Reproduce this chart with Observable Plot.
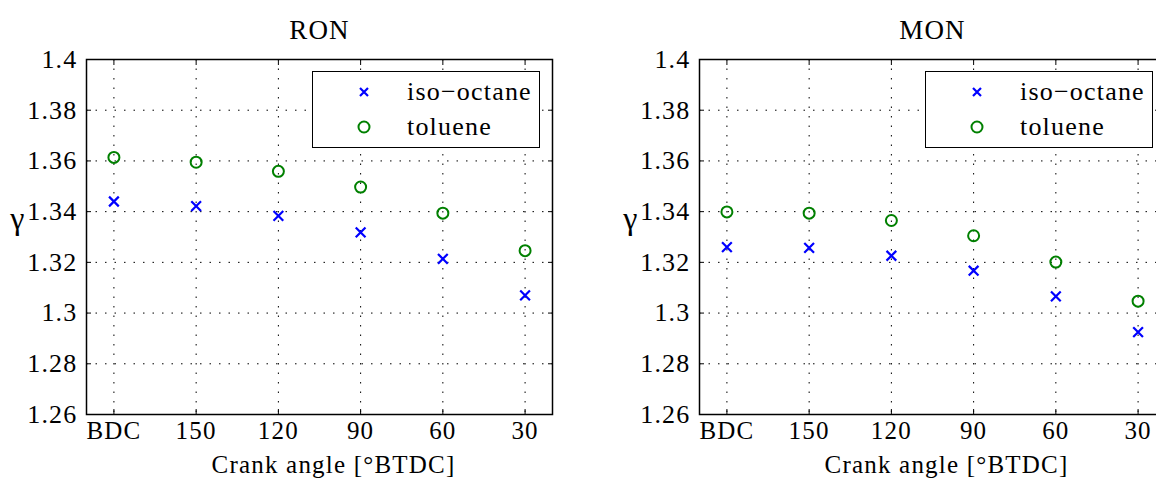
<!DOCTYPE html>
<html>
<head>
<meta charset="utf-8">
<script src="https://cdn.jsdelivr.net/npm/d3@7"></script>
<script src="https://cdn.jsdelivr.net/npm/@observablehq/plot@0.6"></script>
<style>
  html, body { margin: 0; padding: 0; background: #fff; overflow: hidden; }
  #wrap { position: relative; width: 1156px; height: 484px; overflow: hidden; background: #fff; }
  .panel { position: absolute; top: 0; }
  .panel text { letter-spacing: 1.2px; }
  .panel text.xlabel { letter-spacing: 1.5px; }
  .legend { position: absolute; background: #fff; border: 1.5px solid #000; box-sizing: border-box; color: #000; }
  .legend .row { position: absolute; left: 0; height: 32px; width: 100%; }
  .legend svg { position: absolute; left: 40px; top: 5px; }
  .legend span { position: absolute; left: 94px; top: 0; line-height: 32px; white-space: nowrap; letter-spacing: 1.2px;
                 font-family: 'Liberation Serif', 'Times New Roman', serif; font-size: 26px; }
</style>
</head>
<body>
<div id="wrap"></div>
<script>
// ---- data ----
const angles = [180, 150, 120, 90, 60, 30];
const angleLabels = ["BDC", "150", "120", "90", "60", "30"];
const yTicks = [1.26, 1.28, 1.30, 1.32, 1.34, 1.36, 1.38, 1.40];
const seriesNames = ["iso\u2212octane", "toluene"];
const panelTitles = ["RON", "MON"];
const ronIso = [1.3440, 1.3422, 1.3383, 1.3318, 1.3214, 1.3070];
const ronTol = [1.3614, 1.3595, 1.3559, 1.3497, 1.3394, 1.3246];
const monIso = [1.3260, 1.3257, 1.3226, 1.3167, 1.3066, 1.2925];
const monTol = [1.3399, 1.3394, 1.3365, 1.3305, 1.3201, 1.3047];

const BLUE = "#0000ff", GREEN = "#008000";
const FONT = "'Liberation Serif', 'Times New Roman', serif";

function rows(iso, tol) {
  const out = [];
  angles.forEach((a, i) => {
    out.push({angle: a, gamma: iso[i], series: seriesNames[0]});
    out.push({angle: a, gamma: tol[i], series: seriesNames[1]});
  });
  return out;
}

function panel(title, iso, tol, width) {
  const data = rows(iso, tol);
  const fmtX = d => angleLabels[angles.indexOf(d)];
  const fmtY = d => String(+d.toFixed(2));
  const txt = {textAnchor: "middle", lineAnchor: "middle", fontFamily: FONT};
  return Plot.plot({
    width, height: 484,
    marginLeft: 86, marginRight: width - 86 - 466, marginTop: 59, marginBottom: 70,
    style: {fontFamily: FONT, fontSize: "26px", background: "white", color: "black"},
    x: {domain: [190, 20], ticks: angles},
    y: {domain: [1.26, 1.40], ticks: yTicks},
    marks: [
      Plot.gridX(angles, {stroke: "black", strokeOpacity: 1, strokeWidth: 1, strokeDasharray: "1.5,8"}),
      Plot.gridY(yTicks, {stroke: "black", strokeOpacity: 1, strokeWidth: 1, strokeDasharray: "1.5,8"}),
      // inward ticks on all four sides
      Plot.axisX(angles, {anchor: "bottom", tickSize: -5, tickFormat: () => "", label: null, strokeWidth: 1}),
      Plot.axisX(angles, {anchor: "top", tickSize: -5, tickFormat: () => "", label: null, strokeWidth: 1}),
      Plot.axisY(yTicks, {anchor: "left", tickSize: -5, tickFormat: () => "", label: null, strokeWidth: 1}),
      Plot.axisY(yTicks, {anchor: "right", tickSize: -5, tickFormat: () => "", label: null, strokeWidth: 1}),
      // tick labels
      Plot.axisX(angles, {anchor: "bottom", tickSize: 0, tickPadding: 7, tickFormat: fmtX, label: null, fontSize: 25, fontFamily: FONT}),
      Plot.axisY(yTicks, {anchor: "left", tickSize: 0, tickPadding: 9, tickFormat: fmtY, label: null, fontSize: 26, fontFamily: FONT}),
      Plot.frame({stroke: "black", strokeWidth: 1.5}),
      Plot.dot(data.filter(d => d.series === seriesNames[1]),
        {x: "angle", y: "gamma", symbol: "circle", r: 5.5, stroke: GREEN, strokeWidth: 2, fill: "none"}),
      Plot.dot(data.filter(d => d.series === seriesNames[0]),
        {x: "angle", y: "gamma", symbol: "times", r: 4.5, stroke: BLUE, strokeWidth: 2.2}),
      Plot.text([title], {...txt, frameAnchor: "top", dy: -29, fontSize: 27}),
      Plot.text(["Crank angle [\u00B0BTDC]"], {...txt, frameAnchor: "bottom", dx: 14, dy: 50, fontSize: 25, className: "xlabel"}),
      Plot.text(["\u03B3"], {...txt, frameAnchor: "left", dx: -68.5, dy: -18.5, fontSize: 32})
    ]
  });
}

function legend(left) {
  const el = document.createElement("div");
  el.className = "legend";
  Object.assign(el.style, {left: left + "px", top: "71px", width: "228px", height: "77px"});
  el.innerHTML = `
    <div class="row" style="top:4px">
      <svg width="22" height="22" viewBox="-11 -11 22 22"><path d="M-4,-4L4,4M4,-4L-4,4" stroke="${BLUE}" stroke-width="2.2"/></svg>
      <span>${seriesNames[0]}</span>
    </div>
    <div class="row" style="top:39px">
      <svg width="22" height="22" viewBox="-11 -11 22 22"><circle r="5.5" fill="none" stroke="${GREEN}" stroke-width="2"/></svg>
      <span>${seriesNames[1]}</span>
    </div>`;
  return el;
}

const wrap = document.getElementById("wrap");
const p1 = panel(panelTitles[0], ronIso, ronTol, 580);
p1.classList.add("panel"); p1.style.left = "0px";
const p2 = panel(panelTitles[1], monIso, monTol, 582);
p2.classList.add("panel"); p2.style.left = "613px";
wrap.appendChild(p1);
wrap.appendChild(p2);
wrap.appendChild(legend(312));
wrap.appendChild(legend(925));
</script>
</body>
</html>
